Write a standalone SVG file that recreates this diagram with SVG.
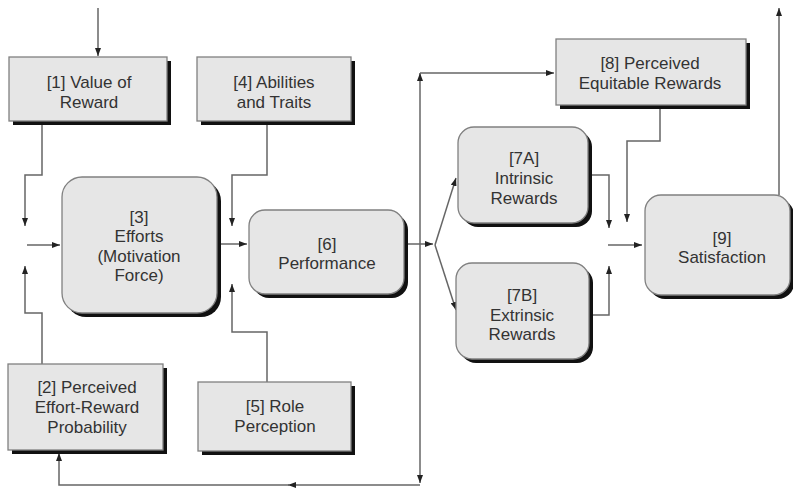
<svg xmlns="http://www.w3.org/2000/svg" width="793" height="492" viewBox="0 0 793 492">
  <defs>
    <marker id="arrow" viewBox="0 0 8 6" refX="8" refY="3" markerWidth="8" markerHeight="6" markerUnits="userSpaceOnUse" orient="auto">
      <path d="M0,0 L8,3 L0,6 Z" fill="#222"/>
    </marker>
  </defs>
  <style>
    .shadow { fill: #111; }
    .box { fill: #e6e6e6; stroke: #808080; stroke-width: 1.3; }
    .label { font-family: "Liberation Sans", Arial, sans-serif; font-size: 17px; fill: #333; text-anchor: middle; }
    .wire { fill: none; stroke: #666; stroke-width: 1.5; }
    .arr { marker-end: url(#arrow); }
  </style>

  <rect width="793" height="492" fill="#fff"/>

  <!-- connectors -->
  <g id="connectors">
    <path class="wire arr" d="M98,8 V56"/>
    <path class="wire arr" d="M42,121 V175 H25 V226"/>
    <path class="wire arr" d="M42,364 V313 H25 V266"/>
    <path class="wire arr" d="M27,245 H60"/>
    <path class="wire arr" d="M267,121 V175 H232 V226"/>
    <path class="wire arr" d="M267,382 V332 H232 V284"/>
    <path class="wire arr" d="M220,244 H247"/>
    <path class="wire arr" d="M408,244 H433"/>
    <path class="wire arr" d="M435,245 L456,178"/>
    <path class="wire arr" d="M435,245 L456,310"/>
    <path class="wire arr" d="M420,250 V73"/>
    <path class="wire arr" d="M420,73 H554"/>
    <path class="wire arr" d="M420,250 V483"/>
    <path class="wire arr" d="M420,485 H288"/>
    <path class="wire arr" d="M290,485 H59 V453"/>
    <path class="wire arr" d="M590,175 H609 V228"/>
    <path class="wire arr" d="M591,315 H609 V266"/>
    <path class="wire arr" d="M660,107 V141 H627 V222"/>
    <path class="wire arr" d="M608,245 H642"/>
    <path class="wire arr" d="M779,195 V8"/>
  </g>

  <!-- [1] Value of Reward -->
  <g id="n1">
    <rect class="shadow" x="13" y="61" width="158" height="64"/>
    <rect class="box" x="9" y="57" width="158" height="64"/>
    <text class="label" x="89" y="88">[1] Value of</text>
    <text class="label" x="89" y="108">Reward</text>
  </g>

  <!-- [4] Abilities and Traits -->
  <g id="n4">
    <rect class="shadow" x="201" y="61" width="154" height="64"/>
    <rect class="box" x="197" y="57" width="154" height="64"/>
    <text class="label" x="274" y="88">[4] Abilities</text>
    <text class="label" x="274" y="108">and Traits</text>
  </g>

  <!-- [8] Perceived Equitable Rewards -->
  <g id="n8">
    <rect class="shadow" x="560" y="43" width="190" height="66"/>
    <rect class="box" x="556" y="39" width="190" height="66"/>
    <text class="label" x="650" y="69">[8] Perceived</text>
    <text class="label" x="650" y="89">Equitable Rewards</text>
  </g>

  <!-- [3] Efforts -->
  <g id="n3">
    <rect class="shadow" x="66" y="181" width="155" height="136" rx="20"/>
    <rect class="box" x="62" y="177" width="155" height="136" rx="20"/>
    <text class="label" x="139" y="223">[3]</text>
    <text class="label" x="139" y="242">Efforts</text>
    <text class="label" x="139" y="262">(Motivation</text>
    <text class="label" x="139" y="281">Force)</text>
  </g>

  <!-- [6] Performance -->
  <g id="n6">
    <rect class="shadow" x="253" y="214" width="155" height="84" rx="16"/>
    <rect class="box" x="249" y="210" width="155" height="84" rx="16"/>
    <text class="label" x="327" y="250">[6]</text>
    <text class="label" x="327" y="269">Performance</text>
  </g>

  <!-- [7A] Intrinsic Rewards -->
  <g id="n7a">
    <rect class="shadow" x="462" y="131" width="130" height="96" rx="16"/>
    <rect class="box" x="458" y="127" width="130" height="96" rx="16"/>
    <text class="label" x="524" y="164">[7A]</text>
    <text class="label" x="524" y="184">Intrinsic</text>
    <text class="label" x="524" y="204">Rewards</text>
  </g>

  <!-- [7B] Extrinsic Rewards -->
  <g id="n7b">
    <rect class="shadow" x="460" y="267" width="133" height="96" rx="16"/>
    <rect class="box" x="456" y="263" width="133" height="96" rx="16"/>
    <text class="label" x="522" y="301">[7B]</text>
    <text class="label" x="522" y="321">Extrinsic</text>
    <text class="label" x="522" y="340">Rewards</text>
  </g>

  <!-- [9] Satisfaction -->
  <g id="n9">
    <rect class="shadow" x="649" y="199" width="145" height="100" rx="16"/>
    <rect class="box" x="645" y="195" width="145" height="100" rx="16"/>
    <text class="label" x="722" y="244">[9]</text>
    <text class="label" x="722" y="263">Satisfaction</text>
  </g>

  <!-- [2] Perceived Effort-Reward Probability -->
  <g id="n2">
    <rect class="shadow" x="12" y="368" width="155" height="86"/>
    <rect class="box" x="8" y="364" width="155" height="86"/>
    <text class="label" x="87" y="393">[2] Perceived</text>
    <text class="label" x="87" y="413">Effort-Reward</text>
    <text class="label" x="87" y="433">Probability</text>
  </g>

  <!-- [5] Role Perception -->
  <g id="n5">
    <rect class="shadow" x="202" y="386" width="153" height="69"/>
    <rect class="box" x="198" y="382" width="153" height="69"/>
    <text class="label" x="275" y="412">[5] Role</text>
    <text class="label" x="275" y="432">Perception</text>
  </g>
</svg>
